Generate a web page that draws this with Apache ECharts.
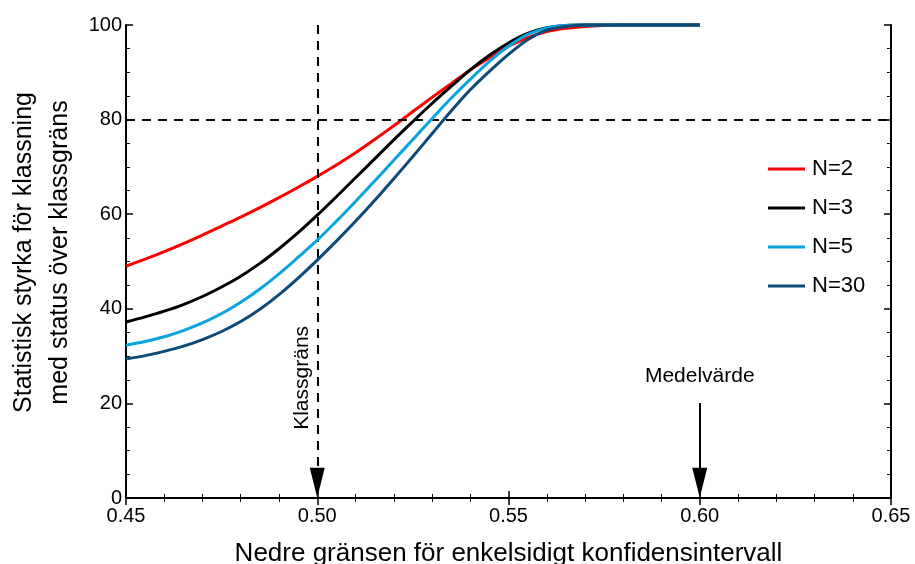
<!DOCTYPE html>
<html>
<head>
<meta charset="utf-8">
<script src="https://cdn.jsdelivr.net/npm/echarts@6/dist/echarts.min.js"></script>
<style>
  html, body { margin: 0; padding: 0; background: #fff; }
  #chart { width: 915px; height: 564px; }
</style>
</head>
<body>
<div id="chart"></div>
<script>
// Lower bound of the one-sided confidence interval (x) and statistical power in % (y)
const xValues = [0.450, 0.455, 0.460, 0.465, 0.470, 0.475, 0.480, 0.485, 0.490, 0.495,
                 0.500, 0.505, 0.510, 0.515, 0.520, 0.525, 0.530, 0.535, 0.540, 0.545,
                 0.550, 0.555, 0.560, 0.565, 0.570, 0.575, 0.580, 0.585, 0.590, 0.595, 0.600];

const powerN2 = [49.0, 50.5, 52.1, 53.8, 55.6, 57.5, 59.4, 61.4, 63.5, 65.7,
                 68.0, 70.4, 73.0, 75.8, 78.7, 81.7, 84.7, 87.6, 90.5, 93.1,
                 95.5, 97.3, 98.6, 99.3, 99.7, 99.9, 100, 100, 100, 100, 100];

const powerN3 = [37.2, 38.3, 39.5, 40.9, 42.6, 44.6, 46.9, 49.6, 52.7, 56.1,
                 59.8, 63.7, 67.7, 71.7, 75.7, 79.6, 83.4, 87.0, 90.5, 93.6,
                 96.2, 98.2, 99.4, 99.9, 100, 100, 100, 100, 100, 100, 100];

const powerN5 = [32.3, 33.1, 34.1, 35.4, 37.0, 39.0, 41.4, 44.2, 47.4, 50.9,
                 54.5, 58.5, 62.7, 67.0, 71.4, 75.8, 80.2, 84.5, 88.5, 92.3,
                 95.5, 98.0, 99.4, 99.9, 100, 100, 100, 100, 100, 100, 100];

const powerN30 = [29.4, 30.1, 31.0, 32.1, 33.5, 35.2, 37.3, 39.9, 43.0, 46.5,
                  50.3, 54.3, 58.5, 62.9, 67.5, 72.2, 77.0, 81.8, 86.3, 90.2,
                  93.8, 96.9, 98.9, 99.7, 100, 100, 100, 100, 100, 100, 100];

const seriesNames = ['N=2', 'N=3', 'N=5', 'N=30'];
const seriesColors = ['#ff0000', '#000000', '#0aa3de', '#0d4a77'];

const classLimit = 0.50;   // klassgräns
const meanValue = 0.60;    // medelvärde
const powerTarget = 80;

const FONT = '"Liberation Sans", Arial, sans-serif';

const chart = echarts.init(document.getElementById('chart'), null, { renderer: 'canvas' });

function pairs(ys) { return xValues.map((x, i) => [x, ys[i]]); }

const allPower = [powerN2, powerN3, powerN5, powerN30];

const lineSeries = allPower.map((ys, i) => ({
  name: seriesNames[i],
  type: 'line',
  data: pairs(ys),
  smooth: 0.3,
  showSymbol: false,
  symbol: 'none',
  clip: false,
  lineStyle: { color: seriesColors[i], width: 3 },
  itemStyle: { color: seriesColors[i] },
  z: 3 + i
}));

// Reference lines, arrows and their labels
const annotations = {
  name: 'annotations',
  type: 'line',
  data: [],
  silent: true,
  z: 2,
  markLine: {
    silent: true,
    animation: false,
    data: [
      [
        { coord: [0.45, powerTarget], symbol: 'none',
          lineStyle: { type: [9, 7], color: '#000', width: 2 } },
        { coord: [0.65, powerTarget], symbol: 'none' }
      ],
      [
        { coord: [classLimit, 100], symbol: 'none',
          lineStyle: { type: [9, 7], color: '#000', width: 2 } },
        { coord: [classLimit, 3.2], symbol: 'triangle', symbolSize: [15, 30] }
      ],
      [
        { coord: [meanValue, 20.1], symbol: 'none',
          lineStyle: { type: 'solid', color: '#000', width: 2 },
          label: { show: true, position: 'start', formatter: 'Medelvärde',
                   distance: 16, color: '#000', fontSize: 21, fontFamily: FONT } },
        { coord: [meanValue, 3.2], symbol: 'triangle', symbolSize: [15, 30] }
      ]
    ],
    label: { show: false }
  },
  markPoint: {
    silent: true,
    animation: false,
    symbol: 'circle',
    symbolSize: 0,
    data: [
      { coord: [classLimit, 25.4],
        label: { show: true, formatter: 'Klassgräns', rotate: 90, offset: [0, -15],
                 color: '#000', fontSize: 21, fontFamily: FONT } }
    ]
  }
};

const tickLabelStyle = { color: '#000', fontSize: 20, fontFamily: FONT };

function frameAxis(extra) {
  return Object.assign({
    axisLine: { show: true, lineStyle: { color: '#000', width: 2 } },
    axisTick: { show: true, inside: true, length: 7, lineStyle: { color: '#000', width: 1.5 } },
    splitLine: { show: false }
  }, extra);
}

const option = {
  backgroundColor: '#fff',
  animation: false,
  textStyle: { fontFamily: FONT },
  grid: { left: 126, right: 24, top: 25, bottom: 66, containLabel: false,
          outerBoundsMode: 'none', show: false },
  legend: {
    orient: 'vertical',
    left: 763,
    top: 153,
    itemWidth: 37,
    itemHeight: 3,
    itemGap: 17,
    icon: 'rect',
    data: seriesNames,
    textStyle: { color: '#000', fontSize: 22, fontFamily: FONT, padding: [0, 0, 0, 2] }
  },
  xAxis: [
    frameAxis({
      type: 'value', position: 'bottom', min: 0.45, max: 0.65, interval: 0.05,
      name: 'Nedre gränsen för enkelsidigt konfidensintervall',
      nameLocation: 'middle', nameGap: 43,
      nameTextStyle: { color: '#000', fontSize: 26, fontFamily: FONT },
      minorTick: { show: true, splitNumber: 5, length: 4, lineStyle: { color: '#000', width: 1 } },
      axisLabel: Object.assign({ margin: 8, formatter: v => v.toFixed(2) }, tickLabelStyle)
    }),
    frameAxis({
      type: 'value', position: 'top', min: 0.45, max: 0.65, interval: 0.05,
      minorTick: { show: true, splitNumber: 5, length: 4, lineStyle: { color: '#000', width: 1 } },
      axisLabel: { show: false }
    })
  ],
  yAxis: [
    frameAxis({
      type: 'value', position: 'left', min: 0, max: 100, interval: 20,
      name: 'Statistisk styrka för klassning\nmed status över klassgräns',
      nameLocation: 'middle', nameGap: 48, nameRotate: 90,
      nameTextStyle: { color: '#000', fontSize: 25, fontFamily: FONT, lineHeight: 36,
                       padding: [0, 0, 0, 18] },
      minorTick: { show: true, splitNumber: 4, length: 4, lineStyle: { color: '#000', width: 1 } },
      axisLabel: Object.assign({ margin: 4 }, tickLabelStyle)
    }),
    frameAxis({
      type: 'value', position: 'right', min: 0, max: 100, interval: 20,
      minorTick: { show: true, splitNumber: 4, length: 4, lineStyle: { color: '#000', width: 1 } },
      axisLabel: { show: false }
    })
  ],
  series: [annotations].concat(lineSeries)
};

chart.setOption(option);
</script>
</body>
</html>
